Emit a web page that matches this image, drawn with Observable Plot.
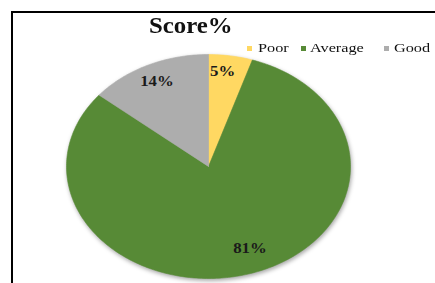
<!DOCTYPE html>
<html>
<head>
<meta charset="utf-8">
<script src="https://cdn.jsdelivr.net/npm/d3@7"></script>
<script src="https://cdn.jsdelivr.net/npm/@observablehq/plot@0.6"></script>
<style>
  html, body { margin: 0; padding: 0; background: #fff; }
  #wrap { position: relative; width: 435px; height: 283px; overflow: hidden; font-family: "Liberation Serif", "DejaVu Serif", serif; }
  #frame { position: absolute; left: 11px; top: 11px; right: -10px; bottom: -10px; border-left: 2px solid #000; border-top: 2px solid #000; }
  #chart { position: absolute; left: 0; top: 0; }
  #title { position: absolute; left: 149px; top: 13px; font-size: 23px; font-weight: bold; color: #111; transform: scaleX(1.08); transform-origin: left top; white-space: nowrap; }
  #legend { position: absolute; left: 0; top: 0; width: 435px; height: 60px; font-size: 13px; color: #111; white-space: nowrap; }
  #legend .sw { position: absolute; top: 46px; width: 5px; height: 5px; }
  #legend .tx { position: absolute; top: 40px; transform: scaleX(1.25); transform-origin: left top; }
</style>
</head>
<body>
<div id="wrap">
  <div id="frame"></div>
  <div id="chart"></div>
  <div id="title"></div>
  <div id="legend"></div>
</div>
<script>
const title = "Score%";
const categories = ["Poor", "Average", "Good"];
const values = [5, 81, 14];
const labels = ["5%", "81%", "14%"];
const colors = ["#FFD862", "#578A36", "#ADADAD"];

const total = d3.sum(values);
// slice geometry in unit-circle space (angle measured clockwise from 12 o'clock)
const slices = [];
let acc = 0;
categories.forEach((c, i) => {
  const a0 = acc / total * 2 * Math.PI;
  acc += values[i];
  const a1 = acc / total * 2 * Math.PI;
  slices.push({name: c, a0, a1, mid: (a0 + a1) / 2, label: labels[i]});
});

const pts = [];
for (const s of slices) {
  pts.push({name: s.name, x: 0, y: 0});
  const n = Math.max(2, Math.ceil((s.a1 - s.a0) / (Math.PI / 180)));
  for (let k = 0; k <= n; k++) {
    const a = s.a0 + (s.a1 - s.a0) * k / n;
    pts.push({name: s.name, x: Math.sin(a), y: Math.cos(a)});
  }
  pts.push({name: s.name, x: 0, y: 0});
}
const labelR = 0.82;
const labelPts = slices.map(s => ({name: s.name, label: s.label, x: labelR * Math.sin(s.mid), y: labelR * Math.cos(s.mid)}));
// small per-slice nudges of the data labels (pixels), as in the reference
const nudge = {Poor: [-4, -4], Average: [9, -6], Good: [-2, -2]};

const plot = Plot.plot({
  width: 435,
  height: 283,
  marginLeft: 66,
  marginRight: 85,
  marginTop: 54,
  marginBottom: 5,
  x: {domain: [-1, 1], axis: null},
  y: {domain: [-1, 1], axis: null},
  color: {domain: categories, range: colors},
  style: {background: "transparent", overflow: "visible"},
  marks: [
    Plot.line(pts, {x: "x", y: "y", z: "name", fill: "name", stroke: "name", strokeWidth: 0.6, curve: "linear", className: "pie"}),
    ...categories.map(c => Plot.text(labelPts.filter(d => d.name === c), {
      x: "x", y: "y", text: "label", dx: nudge[c][0], dy: nudge[c][1],
      fontSize: 14, fontWeight: "bold", fill: "#1a1a1a", fontFamily: "Liberation Serif, serif", className: "lbl"
    }))
  ]
});
d3.select(plot).selectAll(".pie").style("filter", "drop-shadow(1px 2px 2px rgba(0,0,0,0.35))");
d3.select(plot).selectAll(".lbl text").each(function() {
  const t = this.getAttribute("transform") || "";
  this.setAttribute("transform", t + " scale(1.2,1)");
});
document.getElementById("chart").appendChild(plot);

document.getElementById("title").textContent = title;
const lg = d3.select("#legend");
const swX = [247, 301, 384];
const txX = [258, 310, 394];
categories.forEach((c, i) => {
  lg.append("span").attr("class", "sw").style("left", swX[i] + "px").style("background", colors[i]);
  lg.append("span").attr("class", "tx").style("left", txX[i] + "px").text(c);
});
</script>
</body>
</html>
